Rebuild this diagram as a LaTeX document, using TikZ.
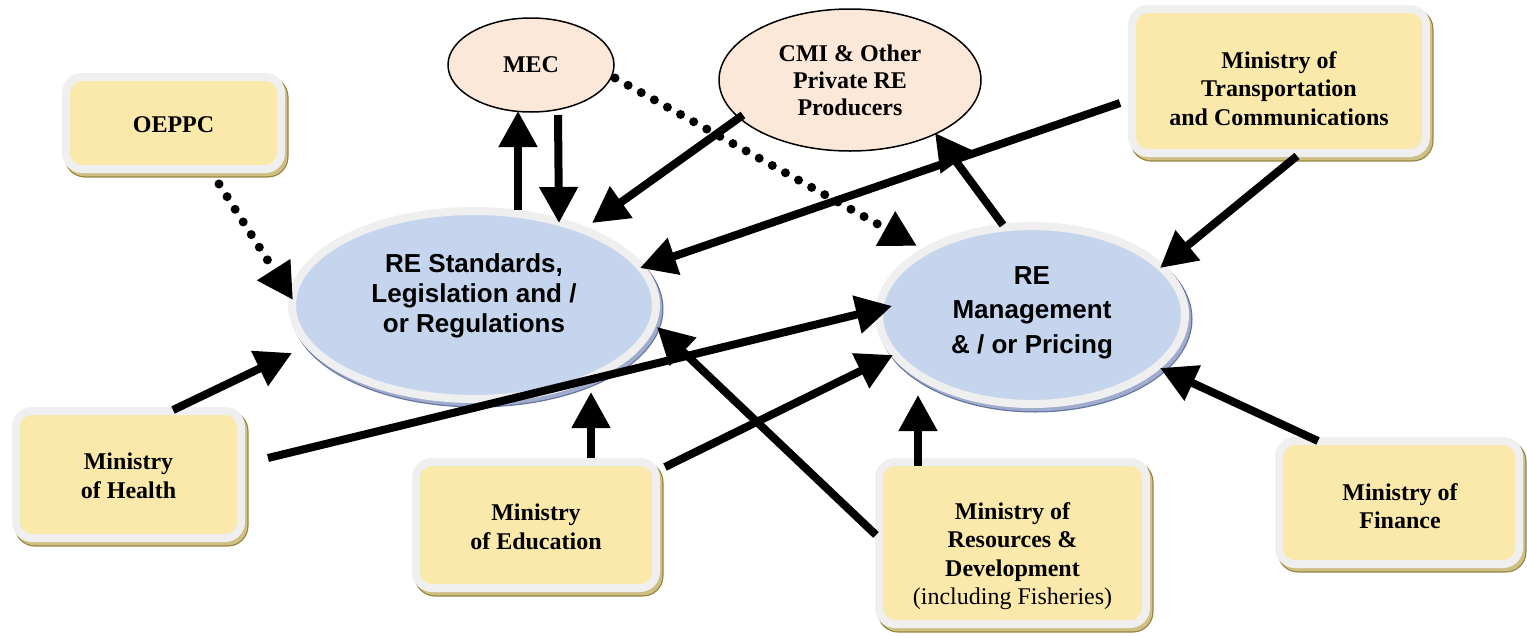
\documentclass[tikz,border=0pt]{standalone}
\usepackage{fontspec}
\setmainfont{Liberation Serif}
\setsansfont{Liberation Sans}
\usetikzlibrary{arrows.meta,shapes.geometric,shadows,calc}
\definecolor{boxyellow}{RGB}{250,233,170}
\definecolor{ringgray}{RGB}{239,239,239}
\definecolor{khaki}{RGB}{206,192,132}
\definecolor{khakidark}{RGB}{150,130,60}
\definecolor{ellblue}{RGB}{198,213,238}
\definecolor{ellshadow}{RGB}{160,172,205}
\definecolor{ellshadowdark}{RGB}{100,115,160}
\definecolor{peach}{RGB}{252,232,216}
\begin{document}
\begin{tikzpicture}[x=1pt,y=-1pt,
  box/.style={rectangle, rounded corners=16pt, draw=ringgray, line width=8pt, fill=boxyellow,
    general shadow={shadow xshift=3pt, shadow yshift=-4pt, fill=khakidark, draw=khakidark, line width=9pt},
    general shadow={shadow xshift=3pt, shadow yshift=-4pt, fill=khaki, draw=khaki, line width=6.5pt}},
  btext/.style={align=center, inner sep=0pt, font=\fontsize{24}{28.5}\selectfont\bfseries},
  bigell/.style={ellipse, draw=ringgray, line width=8pt, fill=ellblue, inner sep=0pt,
    general shadow={shadow xshift=3pt, shadow yshift=-4pt, fill=ellshadowdark, draw=ellshadowdark, line width=9pt},
    general shadow={shadow xshift=3pt, shadow yshift=-4pt, fill=ellshadow, draw=ellshadow, line width=6.5pt}},
  etext/.style={align=center, inner sep=0pt, font=\sffamily\bfseries\fontsize{26}{30}\selectfont},
  smallell/.style={ellipse, draw=black, line width=1.5pt, fill=peach, inner sep=0pt, align=center,
    font=\fontsize{24}{27}\selectfont\bfseries},
  arr/.style={-{Triangle[length=36pt,width=37pt]}, line width=8pt},
  darr/.style={arr, line width=9pt, line cap=round, dash pattern=on 0pt off 15pt}
]
\useasboundingbox (0,0) rectangle (1527,635);

% big ellipses
\node[bigell, minimum width=364pt, minimum height=188pt] (std) at (474,305) {};
\node[etext] (stdt) at ($(std)+(0,-9)$) {RE Standards,\\Legislation and /\\or Regulations};
\node[bigell, minimum width=306pt, minimum height=178pt] (mgmt) at (1032,315) {};
\node[etext, font=\sffamily\bfseries\fontsize{26}{34.5}\selectfont] (mgmtt) at ($(mgmt)+(0,-2.5)$) {RE\\Management\\\& / or Pricing};

% small ellipses
\node[smallell, minimum width=166pt, minimum height=94pt] (mec) at (531,65) {MEC};
\node[smallell, minimum width=262pt, minimum height=142pt] (cmi) at (850,80) {CMI \& Other\\Private RE\\Producers};

% boxes
\node[box, minimum width=215pt, minimum height=92pt] (oep) at (173.5,123) {};
\node[btext] (oept) at ($(oep)+(0,2)$) {OEPPC};
\node[box, minimum width=294pt, minimum height=144pt] (trans) at (1279,81) {};
\node[btext] (transt) at ($(trans)+(0,7.5)$) {Ministry of\\Transportation\\and Communications};
\node[box, minimum width=225pt, minimum height=127pt] (hlth) at (128.5,474.5) {};
\node[btext] (hltht) at ($(hlth)+(0,1.5)$) {Ministry\\of Health};
\node[box, minimum width=240pt, minimum height=126pt] (edu) at (536,525) {};
\node[btext] (edut) at ($(edu)+(0,2)$) {Ministry\\of Education};
\node[box, minimum width=267pt, minimum height=162pt] (res) at (1012.5,543) {};
\node[btext] (rest) at ($(res)+(0,13)$) {Ministry of\\Resources \&\\Development\\\mdseries(including Fisheries)};
\node[box, minimum width=240pt, minimum height=123pt] (fin) at (1399,502.5) {};
\node[btext] (fint) at ($(fin)+(1,3.5)$) {Ministry of\\Finance};

% connectors
\draw[darr] ($(oep)+(45.5,61)$) -- ($(std)+(-181,-5)$);
\draw[arr] ($(hlth)+(44.5,-64.5)$) -- ($(std)+(-182,48)$);
\draw[arr] ($(hlth)+(139.5,-16.5)$) -- ($(mgmt)+(-140,-9)$);
\draw[arr] ($(edu)+(55,-67)$) -- ($(std)+(117,87)$);
\draw[arr] ($(edu)+(129,-58)$) -- ($(mgmt)+(-139,40)$);
\draw[arr] ($(res)+(-136.5,-8)$) -- ($(std)+(183,22)$);
\draw[arr] ($(res)+(-94.5,-77)$) -- ($(mgmt)+(-114,80)$);
\draw[arr] ($(fin)+(-81,-61.5)$) -- ($(mgmt)+(128,53)$);
\draw[arr] ($(trans)+(18,75)$) -- ($(mgmt)+(128,-47)$);
\draw[arr] ($(trans)+(-159,22)$) -- ($(std)+(166,-37)$);
\draw[arr] ($(mgmt)+(-29,-90)$) -- ($(cmi)+(85,53)$);
\draw[arr] ($(cmi)+(-107,35)$) -- ($(std)+(118,-82)$);
\draw[arr] ($(std)+(44,-95)$) -- ($(mec)+(-13,46)$);
\draw[arr] ($(mec)+(27,50)$) -- ($(std)+(85,-82)$);
\draw[darr] ($(mec)+(84,13)$) -- ($(mgmt)+(-115,-69)$);
\end{tikzpicture}
\end{document}
